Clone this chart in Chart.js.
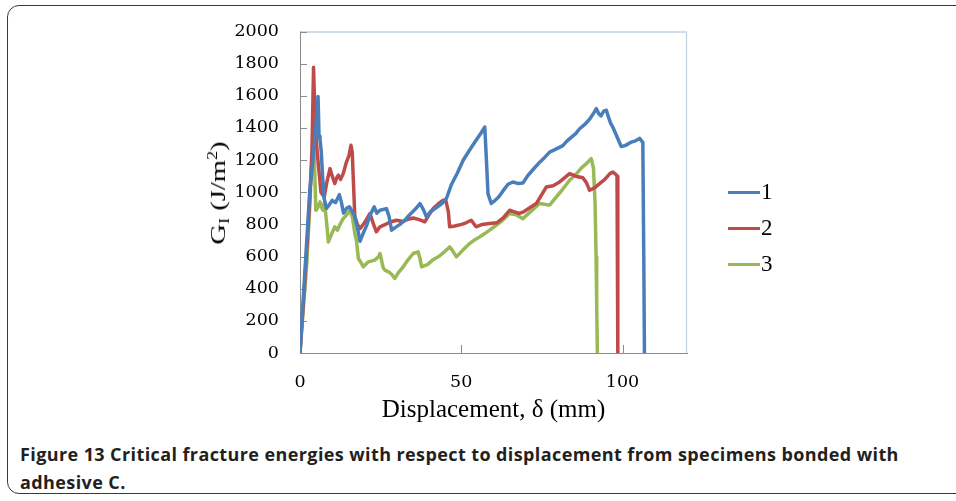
<!DOCTYPE html>
<html>
<head>
<meta charset="utf-8">
<script src="https://cdn.jsdelivr.net/npm/chart.js@4.4.1/dist/chart.umd.min.js"></script>
<style>
  html, body { margin: 0; padding: 0; background: #fff; }
  body { width: 956px; height: 501px; position: relative; overflow: hidden; }
  #frame { position: absolute; left: 7px; top: 5px; width: 1000px; height: 489px; border: 1.6px solid #3a3a3a; border-radius: 12px; box-sizing: border-box; }
  #wrap { position: absolute; left: 0; top: 0; width: 800px; height: 440px; }
  #ytitle { position: absolute; left: 219px; top: 193px; transform: translate(-50%, -50%) rotate(-90deg) scaleX(1.3); font-family: "Liberation Serif", serif; font-size: 22px; color: #000; white-space: nowrap; }
  #ytitle sub { font-size: 14px; vertical-align: -4px; }
  #ytitle sup { font-size: 14px; vertical-align: 8px; }
  .leg { position: absolute; left: 728px; width: 32px; height: 3px; }
  .legt { position: absolute; left: 761px; font-family: "Liberation Serif", serif; font-size: 23px; color: #000; line-height: 22px; }
  #cap { position: absolute; left: 20px; top: 440px; font-family: "Open Sans", sans-serif; font-weight: 700; font-size: 18px; letter-spacing: 0.4px; color: #231f20; line-height: 28px; white-space: nowrap; }
</style>
</head>
<body>
<div id="frame"></div>
<div id="wrap"><canvas id="c" width="800" height="440"></canvas></div>
<div id="ytitle">G<sub>I</sub> (J/m<sup>2</sup>)</div>
<div class="leg" style="top:191px;background:#4a7ebb"></div><div class="legt" style="top:181px">1</div>
<div class="leg" style="top:227px;background:#be4b48"></div><div class="legt" style="top:217px">2</div>
<div class="leg" style="top:263px;background:#98b954"></div><div class="legt" style="top:253px">3</div>
<div id="cap"><span id="cap1">Figure 13 Critical fracture energies with respect to displacement from specimens bonded with</span><br>adhesive C.</div>
<script>
// ---- data ----
const seriesNames = ["1", "2", "3"];
const xTickValues = [0, 50, 100];
const yTickValues = [0, 200, 400, 600, 800, 1000, 1200, 1400, 1600, 1800, 2000];

const disp1 = [0, 1.5, 3, 4, 4.8, 5.3, 5.6, 5.9, 6.2, 6.6, 7.0, 7.5, 8.2, 9.0, 10, 11, 12.2, 12.8, 13.5, 14.5, 15.3, 16.2, 17.0, 17.8, 18.6, 19.5, 20.6, 21.8, 23.0, 23.8, 24.8, 26.8, 27.6, 28.4, 29.5, 31, 32.5, 34, 36, 37.2, 38.3, 39.2, 40.5, 42.3, 44, 45.4, 47, 48.8, 50.6, 52.5, 54.5, 56.2, 57.3, 57.8, 58.3, 59.3, 60.5, 61.6, 63, 64.5, 66, 67.5, 69.1, 70.5, 72.2, 74, 75.8, 77.4, 79.5, 81.5, 82.6, 84, 85.5, 86.7, 88.5, 90, 91.3, 91.9, 92.6, 93.3, 94.2, 95, 95.6, 96.3, 97, 98.2, 99.6, 100.8, 102.5, 104, 105.3, 106.3, 106.6, 106.8];
const g1 = [0, 500, 1000, 1200, 1380, 1500, 1596, 1350, 1330, 1250, 1100, 960, 900, 920, 950, 935, 985, 940, 870, 900, 910, 880, 850, 780, 695, 740, 790, 860, 910, 870, 888, 898, 850, 764, 780, 800, 826, 860, 900, 930, 890, 847, 880, 905, 930, 961, 1050, 1120, 1199, 1260, 1320, 1370, 1406, 1200, 990, 930, 950, 970, 1010, 1050, 1064, 1055, 1057, 1100, 1140, 1180, 1215, 1250, 1270, 1290, 1315, 1340, 1365, 1395, 1425, 1460, 1500, 1520, 1490, 1475, 1505, 1510, 1470, 1430, 1405, 1350, 1285, 1290, 1310, 1320, 1335, 1310, 600, 0];

const disp2 = [0, 1.5, 3, 3.7, 4.2, 4.6, 5.2, 5.8, 6.5, 7.5, 8.3, 9.3, 10.0, 10.8, 11.4, 11.9, 12.6, 13.4, 14.4, 15.2, 15.8, 16.2, 17.0, 17.8, 18.6, 20, 21.7, 22.8, 23.7, 24.8, 26.5, 28, 29.9, 32, 33.5, 35.1, 37, 38.7, 40, 41.3, 43, 44.4, 45.2, 46.0, 46.4, 48, 50.1, 51.5, 53.1, 54.6, 56.5, 58.8, 61, 63, 65, 66.5, 68, 69.5, 71, 73.3, 76.4, 78.5, 80.5, 83.6, 85.5, 87.7, 88.8, 89.8, 91.5, 92.9, 94.5, 96.1, 97, 98.0, 98.3, 98.5, 98.6];
const g2 = [0, 450, 950, 1250, 1778, 1500, 1280, 1150, 1000, 970, 1060, 1147, 1100, 1054, 1090, 1106, 1080, 1116, 1188, 1230, 1292, 1250, 847, 800, 774, 810, 868, 800, 754, 785, 800, 815, 826, 818, 832, 840, 830, 816, 860, 899, 930, 950, 950, 880, 785, 790, 800, 810, 826, 785, 800, 806, 810, 840, 888, 878, 868, 880, 900, 930, 1033, 1040, 1064, 1116, 1100, 1090, 1060, 1012, 1030, 1054, 1080, 1116, 1126, 1110, 1100, 500, 0];

const disp3 = [0, 1, 2.1, 3, 3.6, 4.1, 4.5, 4.9, 5.4, 6.2, 6.8, 7.2, 7.6, 8.2, 8.8, 9.8, 10.8, 11.6, 12.4, 13.4, 14.5, 15.5, 16.3, 17.0, 17.5, 18.1, 19.0, 19.6, 21.2, 23.2, 24.4, 24.8, 25.8, 26.3, 27.5, 28.4, 29.4, 30.5, 32, 33.5, 35.1, 36.6, 37.2, 37.7, 39.5, 41.1, 43, 44.8, 46.4, 47.2, 48.5, 50.5, 52.6, 54.2, 55.7, 57.3, 58.8, 60.5, 62.5, 65, 67, 69.1, 71, 74.3, 77.4, 79.5, 81.5, 83.6, 85.5, 87.2, 88.9, 90.3, 91.0, 91.5, 91.8, 92.0, 92.2];
const g3 = [0, 270, 557, 900, 1178, 1333, 1180, 888, 900, 940, 900, 888, 940, 820, 691, 740, 785, 764, 800, 836, 860, 888, 840, 743, 700, 588, 560, 536, 567, 578, 600, 619, 530, 516, 505, 490, 464, 500, 536, 580, 619, 629, 590, 536, 550, 578, 600, 630, 660, 640, 598, 640, 681, 705, 722, 743, 764, 790, 820, 868, 860, 836, 870, 930, 920, 971, 1020, 1075, 1110, 1150, 1180, 1209, 1150, 930, 600, 300, 0];

const colors = ["#4a7ebb", "#be4b48", "#98b954"];

function pts(xs, ys) { return xs.map((v, i) => ({ x: v, y: ys[i] })); }

const plotDecor = {
  id: 'plotDecor',
  beforeDatasetsDraw(chart) {
    const { ctx, chartArea: a, scales: { x, y } } = chart;
    ctx.save();
    ctx.strokeStyle = '#c4d2e4';
    ctx.lineWidth = 1.3;
    ctx.beginPath();
    ctx.moveTo(a.left, a.top + 0.5);
    ctx.lineTo(a.right - 0.5, a.top + 0.5);
    ctx.lineTo(a.right - 0.5, a.bottom);
    ctx.stroke();
    ctx.strokeStyle = '#8c8c8c';
    ctx.lineWidth = 1;
    ctx.beginPath();
    y.ticks.forEach(t => {
      const py = Math.round(y.getPixelForValue(t.value)) + 0.5;
      ctx.moveTo(a.left, py); ctx.lineTo(a.left + 7, py);
    });
    x.ticks.forEach(t => {
      const px = Math.round(x.getPixelForValue(t.value)) + 0.5;
      ctx.moveTo(px, a.bottom); ctx.lineTo(px, a.bottom - 8);
    });
    ctx.stroke();
    ctx.restore();
  }
};

Chart.defaults.font.family = '"Liberation Serif", serif';
Chart.defaults.color = '#000';

new Chart(document.getElementById('c'), {
  type: 'scatter',
  data: {
    datasets: [
      { label: seriesNames[0], data: pts(disp1, g1), borderColor: colors[0] },
      { label: seriesNames[1], data: pts(disp2, g2), borderColor: colors[1] },
      { label: seriesNames[2], data: pts(disp3, g3), borderColor: colors[2] }
    ].map(d => Object.assign(d, { showLine: true, pointRadius: 0, borderWidth: 3.5, tension: 0, borderJoinStyle: 'round', borderCapStyle: 'round' }))
  },
  options: {
    responsive: false,
    animation: false,
    devicePixelRatio: 1,
    layout: { padding: { left: 220, top: 31, right: 113, bottom: 0 } },
    plugins: { legend: { display: false }, tooltip: { enabled: false } },
    scales: {
      x: {
        type: 'linear', min: 0, max: 120,
        afterBuildTicks: s => { s.ticks = xTickValues.map(v => ({ value: v })); },
        afterFit: s => { s.height = 87; },
        grid: { display: false, drawTicks: false },
        border: { display: true, color: '#8c8c8c', width: 1 },
        ticks: { font: { family: '"DejaVu Serif", serif', size: 17.5 }, padding: 19, maxRotation: 0, callback: v => String(v) },
        title: { display: true, text: 'Displacement, δ (mm)', font: { size: 25 }, padding: { top: 0, bottom: 15 } }
      },
      y: {
        type: 'linear', min: 0, max: 2000,
        afterBuildTicks: s => { s.ticks = yTickValues.map(v => ({ value: v })); },
        afterFit: s => { s.width = 80; },
        grid: { display: false, drawTicks: false },
        border: { display: true, color: '#8c8c8c', width: 1 },
        ticks: { font: { family: '"DejaVu Serif", serif', size: 17.5 }, padding: 21, callback: v => String(v) }
      }
    }
  },
  plugins: [plotDecor]
});
</script>
</body>
</html>
